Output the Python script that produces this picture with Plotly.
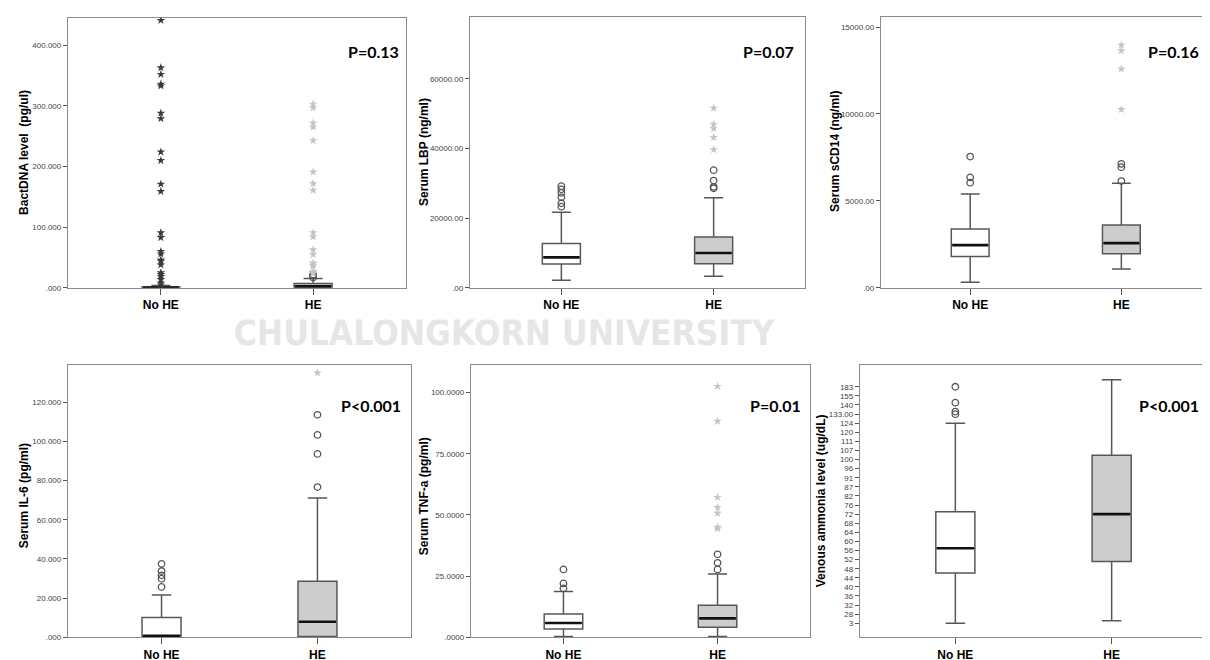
import plotly.graph_objects as go

W, H = 1210, 660
categories = ["No HE", "HE"]

# ---------------- Panel 1: BactDNA level (pg/ul) ----------------
bact_q1 = [0.2, 0.8]
bact_median = [0.7, 2.5]
bact_q3 = [1.6, 7.2]
bact_lower = [0.0, 0.0]
bact_upper = [4.0, 15.4]
bact_mild_noHE = []
bact_mild_HE = [17, 20, 22]
bact_extreme_noHE = [441, 363, 352, 336, 333, 288, 279, 224, 210, 171, 159, 91, 83,
                     60, 56, 46, 44, 38, 25, 22, 19, 14, 8, 5]
bact_extreme_HE = [303, 297, 272, 265, 243, 191, 172, 161, 91, 84, 63, 55, 41, 38, 36,
                   27, 25, 24]
bact_ticks = [0, 100, 200, 300, 400]
bact_ticktext = [".000", "100.000", "200.000", "300.000", "400.000"]

# ---------------- Panel 2: Serum LBP (ng/ml) ----------------
lbp_q1 = [6860, 6950]
lbp_median = [8760, 10000]
lbp_q3 = [12760, 14570]
lbp_lower = [2190, 3330]
lbp_upper = [21700, 25900]
lbp_mild_noHE = [23300, 24300, 26000, 27300, 28300, 29200]
lbp_mild_HE = [28600, 29000, 30800, 33800]
lbp_extreme_noHE = []
lbp_extreme_HE = [39700, 43200, 45700, 47000, 51600]
lbp_ticks = [0, 20000, 40000, 60000]
lbp_ticktext = [".00", "20000.00", "40000.00", "60000.00"]

# ---------------- Panel 3: Serum sCD14 (ng/ml) ----------------
scd14_q1 = [1810, 1960]
scd14_median = [2460, 2570]
scd14_q3 = [3390, 3620]
scd14_lower = [320, 1090]
scd14_upper = [5400, 6010]
scd14_mild_noHE = [6050, 6350, 7550]
scd14_mild_HE = [6140, 6940, 7130]
scd14_extreme_noHE = []
scd14_extreme_HE = [10260, 12590, 13640, 13960]
scd14_ticks = [0, 5000, 10000, 15000]
scd14_ticktext = [".00", "5000.00", "10000.00", "15000.00"]

# ---------------- Panel 4: Serum IL-6 (pg/ml) ----------------
il6_q1 = [0.2, 0.3]
il6_median = [0.7, 7.9]
il6_q3 = [10.1, 28.6]
il6_lower = [0.0, 0.0]
il6_upper = [21.5, 71.1]
il6_mild_noHE = [25.7, 29.9, 31.6, 33.8, 37.5]
il6_mild_HE = [76.7, 93.6, 103.3, 113.6]
il6_extreme_noHE = []
il6_extreme_HE = [135]
il6_ticks = [0, 20, 40, 60, 80, 100, 120]
il6_ticktext = [".000", "20.000", "40.000", "60.000", "80.000", "100.000", "120.000"]

# ---------------- Panel 5: Serum TNF-a (pg/ml) ----------------
tnf_q1 = [3.4, 4.1]
tnf_median = [5.8, 7.7]
tnf_q3 = [9.5, 13.1]
tnf_lower = [0.3, 0.3]
tnf_upper = [18.7, 25.8]
tnf_mild_noHE = [20.0, 22.0, 27.7]
tnf_mild_HE = [27.7, 30.4, 33.9]
tnf_extreme_noHE = []
tnf_extreme_HE = [44.3, 45.0, 50.7, 53.1, 57.2, 88.3, 102.6]
tnf_ticks = [0, 25, 50, 75, 100]
tnf_ticktext = [".0000", "25.0000", "50.0000", "75.0000", "100.0000"]

# ---------------- Panel 6: Venous ammonia level (ug/dL) ----------------
# ordinal axis: values are expressed as positions along the ordered tick labels
ammonia_ticktext = ["3", "28", "32", "36", "40", "44", "48", "52", "56", "60", "64", "68",
                    "72", "76", "82", "87", "91", "96", "100", "107", "111", "120", "124",
                    "133.00", "140", "155", "183"]
ammonia_ticks = list(range(len(ammonia_ticktext)))
ammonia_q1 = [5.53, 6.8]
ammonia_median = [8.25, 12.0]
ammonia_q3 = [12.25, 18.47]
ammonia_lower = [0.0, 0.29]
ammonia_upper = [22.0, 26.76]
ammonia_mild_noHE = [22.98, 23.27, 24.25, 26.0]
ammonia_mild_HE = []
ammonia_extreme_noHE = []
ammonia_extreme_HE = []

p_values = ["P=0.13", "P=0.07", "P=0.16", "P<0.001", "P=0.01", "P<0.001"]
y_titles = ["BactDNA level  (pg/ul)", "Serum LBP (ng/ml)", "Serum sCD14 (ng/ml)",
            "Serum IL-6 (pg/ml)", "Serum TNF-a (pg/ml)", "Venous ammonia level (ug/dL)"]
watermark = "CHULALONGKORN UNIVERSITY"

panels = [
    dict(q1=bact_q1, med=bact_median, q3=bact_q3, lo=bact_lower, hi=bact_upper,
         mild=[bact_mild_noHE, bact_mild_HE], ext=[bact_extreme_noHE, bact_extreme_HE],
         tv=bact_ticks, tt=bact_ticktext,
         frame=(60, 398, 10, 282), xr=(-0.61, 1.61), yr=(0, 445),
         tx=16, ty=146, px=365, py=44),
    dict(q1=lbp_q1, med=lbp_median, q3=lbp_q3, lo=lbp_lower, hi=lbp_upper,
         mild=[lbp_mild_noHE, lbp_mild_HE], ext=[lbp_extreme_noHE, lbp_extreme_HE],
         tv=lbp_ticks, tt=lbp_ticktext,
         frame=(462, 797, 9, 282), xr=(-0.6, 1.6), yr=(0, 77800),
         tx=416, ty=145, px=760, py=44),
    dict(q1=scd14_q1, med=scd14_median, q3=scd14_q3, lo=scd14_lower, hi=scd14_upper,
         mild=[scd14_mild_noHE, scd14_mild_HE], ext=[scd14_extreme_noHE, scd14_extreme_HE],
         tv=scd14_ticks, tt=scd14_ticktext,
         frame=(873, 1198, 9, 282), xr=(-0.59, 1.56), yr=(0, 15580),
         tx=827, ty=145, px=1165, py=44),
    dict(q1=il6_q1, med=il6_median, q3=il6_q3, lo=il6_lower, hi=il6_upper,
         mild=[il6_mild_noHE, il6_mild_HE], ext=[il6_extreme_noHE, il6_extreme_HE],
         tv=il6_ticks, tt=il6_ticktext,
         frame=(60, 403, 360, 634), xr=(-0.6, 1.6), yr=(0, 138.9),
         tx=16, ty=492, px=363, py=401),
    dict(q1=tnf_q1, med=tnf_median, q3=tnf_q3, lo=tnf_lower, hi=tnf_upper,
         mild=[tnf_mild_noHE, tnf_mild_HE], ext=[tnf_extreme_noHE, tnf_extreme_HE],
         tv=tnf_ticks, tt=tnf_ticktext,
         frame=(463, 802, 360, 634), xr=(-0.6, 1.6), yr=(0, 111.2),
         tx=416, ty=492, px=767, py=401),
    dict(q1=ammonia_q1, med=ammonia_median, q3=ammonia_q3, lo=ammonia_lower, hi=ammonia_upper,
         mild=[ammonia_mild_noHE, ammonia_mild_HE], ext=[ammonia_extreme_noHE, ammonia_extreme_HE],
         tv=ammonia_ticks, tt=ammonia_ticktext,
         frame=(852, 1199, 360, 634), xr=(-0.61, 1.61), yr=(-1.53, 28.36),
         tx=813, ty=497, px=1161, py=401),
]

box_fill = ["#ffffff", "#cdcdcd"]
extreme_color = ["#3a3a3a", "#c4c4c4"]
line_col = "#575757"
frame_col = "#8a8a8a"
box_w = 0.25

fig = go.Figure()
annotations = []
layout = {}

for k, p in enumerate(panels):
    n = k + 1
    xa = "x" if n == 1 else f"x{n}"
    ya = "y" if n == 1 else f"y{n}"
    x0, x1, y0, y1 = p["frame"]
    xdom = [x0 / W, x1 / W]
    ydom = [1 - y1 / H, 1 - y0 / H]
    px_per_unit = (x1 - x0) / (p["xr"][1] - p["xr"][0])
    bw_px = box_w * px_per_unit

    for i, cat in enumerate(categories):
        fig.add_trace(go.Box(
            x=[cat], q1=[p["q1"][i]], median=[p["med"][i]], q3=[p["q3"][i]],
            lowerfence=[p["lo"][i]], upperfence=[p["hi"][i]],
            fillcolor=box_fill[i], line=dict(color=line_col, width=1.5),
            width=box_w, whiskerwidth=0.5, boxpoints=False,
            xaxis=xa, yaxis=ya, showlegend=False, hoverinfo="skip"))
    # thick median lines (line-ew marker spans 1.4 x its size)
    fig.add_trace(go.Scatter(
        x=categories, y=p["med"], mode="markers",
        marker=dict(symbol="line-ew", size=(bw_px - 2) / 1.4, color="#111111",
                    line=dict(color="#111111", width=2.6)),
        xaxis=xa, yaxis=ya, showlegend=False, hoverinfo="skip"))
    for i, cat in enumerate(categories):
        vals = p["mild"][i]
        if vals:
            fig.add_trace(go.Scatter(
                x=[cat] * len(vals), y=vals, mode="markers",
                marker=dict(symbol="circle-open", size=6.5, color="#555555",
                            line=dict(color="#555555", width=1.3)),
                xaxis=xa, yaxis=ya, showlegend=False, hoverinfo="skip"))
        vals = p["ext"][i]
        if vals:
            fig.add_trace(go.Scatter(
                x=[cat] * len(vals), y=vals, mode="markers",
                marker=dict(symbol="star", size=6.5, color=extreme_color[i],
                            line=dict(width=0)),
                xaxis=xa, yaxis=ya, showlegend=False, hoverinfo="skip"))

    xkey = "xaxis" if n == 1 else f"xaxis{n}"
    ykey = "yaxis" if n == 1 else f"yaxis{n}"
    layout[xkey] = dict(
        domain=xdom, anchor=ya, type="category", categoryorder="array",
        categoryarray=categories, range=list(p["xr"]),
        showline=True, mirror=True, linecolor=frame_col, linewidth=1.3,
        ticks="outside", ticklen=6, tickcolor="#555555", tickwidth=1.2,
        tickfont=dict(family="Liberation Sans, Arial", size=12, color="#000000", weight="bold"),
        showgrid=False, zeroline=False, fixedrange=True)
    layout[ykey] = dict(
        domain=ydom, anchor=xa, range=list(p["yr"]),
        tickmode="array", tickvals=p["tv"], ticktext=p["tt"],
        showline=True, mirror=True, linecolor=frame_col, linewidth=1.3,
        ticks="outside", ticklen=4, tickcolor="#555555", tickwidth=1,
        tickfont=dict(family="Liberation Sans, Arial", size=8, color="#444444"),
        showgrid=False, zeroline=False, fixedrange=True)

    annotations.append(dict(
        text=y_titles[k], textangle=-90, x=p["tx"] / W, y=1 - p["ty"] / H,
        xref="paper", yref="paper", xanchor="center", yanchor="middle", showarrow=False,
        font=dict(family="Liberation Sans, Arial", size=12, color="#000000", weight="bold")))
    annotations.append(dict(
        text=p_values[k], x=p["px"] / W, y=1 - p["py"] / H,
        xref="paper", yref="paper", xanchor="center", yanchor="middle", showarrow=False,
        font=dict(family="Lato, Open Sans", size=16, color="#000000", weight="bold")))

# watermark band (clipped at the top, as in the source image)
wm_top, wm_bot = 314, 347
fig.add_trace(go.Scatter(
    x=[0.41], y=[0.5], mode="text", text=[watermark],
    textposition="middle center", cliponaxis=True,
    textfont=dict(family="Liberation Sans Narrow, DejaVu Sans Condensed", size=35,
                  color="#e6e6e6", weight="bold"),
    xaxis="x7", yaxis="y7", showlegend=False, hoverinfo="skip"))
layout["xaxis7"] = dict(domain=[0, 1], range=[0, 1], anchor="y7", visible=False, fixedrange=True)
layout["yaxis7"] = dict(domain=[1 - wm_bot / H, 1 - wm_top / H], range=[0, 1], anchor="x7",
                        visible=False, fixedrange=True)

fig.update_layout(
    width=W, height=H, margin=dict(l=0, r=0, t=0, b=0),
    paper_bgcolor="white", plot_bgcolor="white",
    annotations=annotations, showlegend=False, **layout)

fig.write_html("out.html")
